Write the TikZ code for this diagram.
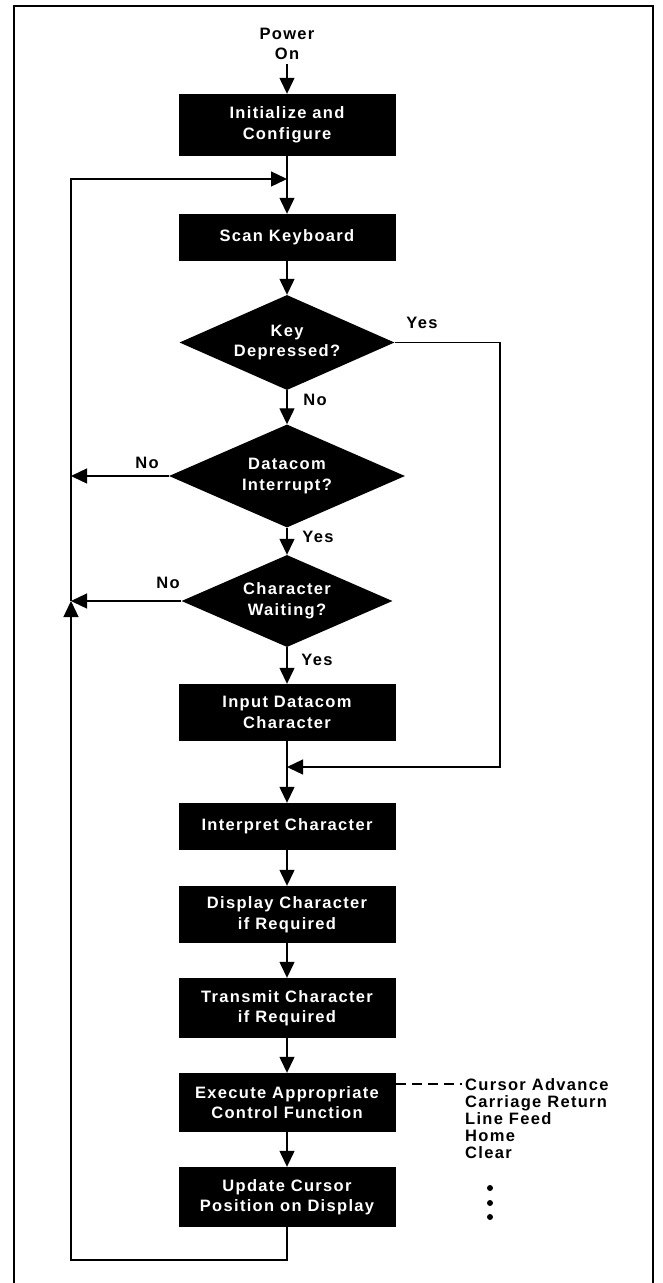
\documentclass[tikz,border=0pt]{standalone}
\usepackage{fontspec}
\setmainfont{Liberation Sans}[LetterSpace=8]
\usetikzlibrary{shapes.geometric,arrows.meta}

\newcommand{\flowfont}{\fontsize{16.5}{20.5}\selectfont\bfseries}

\tikzset{
    stepbox/.style={rectangle, fill=black, text=white, minimum width=217pt,
        inner sep=0pt, align=center, font=\flowfont},
    decision/.style={diamond, aspect=2.4, fill=black, text=white, inner sep=0pt,
        align=center, font=\flowfont},
    flow/.style={line width=1.3pt, -{Triangle[length=16pt,width=15pt]}},
    link/.style={line width=1.3pt},
    tag/.style={inner sep=0pt, font=\flowfont}
}

\begin{document}
\begin{tikzpicture}[x=1pt,y=-1pt]
    \useasboundingbox (0,0) rectangle (662,1283);
    \draw[line width=2pt] (14,1283) -- (14,6) -- (653,6) -- (653,1283);

    % main column
    \node[tag, align=center] (power) at (287,44) {Power\\On};
    \node[stepbox, minimum height=62pt] (init) at (287,125) {Initialize and\\Configure};
    \node[stepbox, minimum height=47pt] (scan) at (287,237.5) {Scan Keyboard};
    \node[decision, minimum width=215pt, minimum height=95pt] (key) at (287,342.5) {Key\\Depressed?};
    \node[decision, minimum width=236pt, minimum height=103pt] (dcom) at (287,476) {Datacom\\Interrupt?};
    \node[decision, minimum width=211pt, minimum height=92pt] (wait) at (287,601) {Character\\Waiting?};
    \node[stepbox, minimum height=57pt] (input) at (287,712.5) {Input Datacom\\Character};
    \node[stepbox, minimum height=47pt] (interp) at (287,826.5) {Interpret Character};
    \node[stepbox, minimum height=57pt] (disp) at (287,914.5) {Display Character\\if Required};
    \node[stepbox, minimum height=60pt] (trans) at (287,1008) {Transmit Character\\if Required};
    \node[stepbox, minimum height=59pt] (exec) at (287,1102.5) {Execute Appropriate\\Control Function};
    \node[stepbox, minimum height=60pt] (upd) at (287,1197) {Update Cursor\\Position on Display};

    % branch labels
    \node[tag] (keyyes) at (422,323) {Yes};
    \node[tag] (keyno) at (315,400) {No};
    \node[tag] (dcomno) at (147,463) {No};
    \node[tag] (dcomyes) at (318,537) {Yes};
    \node[tag] (waitno) at (168,583) {No};
    \node[tag] (waityes) at (317,660) {Yes};

    % control functions
    \node[tag, align=left, anchor=north west, font=\fontsize{16.5}{17}\selectfont\bfseries] (funcs)
        at (465,1078) {Cursor Advance\\Carriage Return\\Line Feed\\Home\\Clear};
    \foreach \y in {1188,1203,1217}
        \fill (490,\y) circle (3pt);

    \coordinate (ltop) at (71,179);
    \coordinate (lmid) at (71,601);
    \coordinate (lbot) at (71,1260);
    \coordinate (ybend) at (500,767);
    \coordinate (dash) at (462,1084);

    \draw[flow] (power.south) ++(0,4) -- (init);
    \draw[flow] (init) -- (scan);
    \draw[flow] (lmid) |- (init |- ltop);
    \draw[flow] (scan) -- (key);
    \draw[flow] (key) -- (dcom);
    \draw[flow] (dcom) -- (wait);
    \draw[flow] (dcom.west) -- (dcom.west -| lmid);
    \draw[flow] (wait.west) -- (lmid);
    \draw[flow] (wait) -- (input);
    \draw[flow] (input) -- (interp);
    \draw[flow] (key.east) -| (ybend) -- (input |- ybend);
    \draw[flow] (interp) -- (disp);
    \draw[flow] (disp) -- (trans);
    \draw[flow] (trans) -- (exec);
    \draw[flow] (exec) -- (upd);
    \draw[flow] (upd) |- (lbot) -- (lmid);
    \draw[link, dash pattern=on 10pt off 6pt] (exec.east |- dash) -- (dash);
\end{tikzpicture}
\end{document}
